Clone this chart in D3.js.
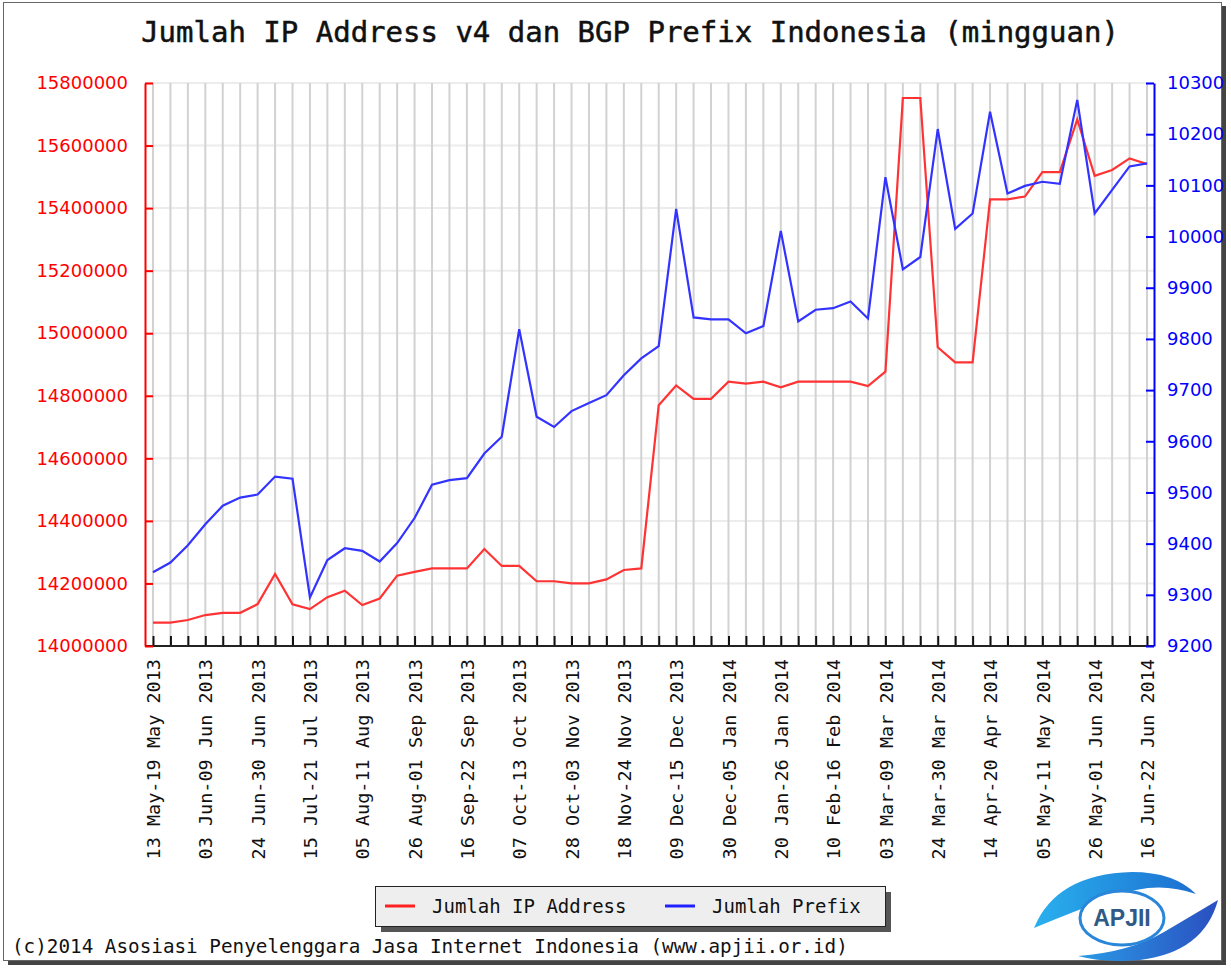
<!DOCTYPE html>
<html>
<head>
<meta charset="utf-8">
<script src="https://cdn.jsdelivr.net/npm/d3@7"></script>
<style>
  body { margin: 0; background: #fff; }
  svg { display: block; }
  .mono { font-family: "DejaVu Sans Mono", monospace; }
</style>
</head>
<body>
<div class="canvas"></div>
<script>
const weeks = [
  "13 May-19 May 2013", "20 May-26 May 2013", "27 May-02 Jun 2013", "03 Jun-09 Jun 2013",
  "10 Jun-16 Jun 2013", "17 Jun-23 Jun 2013", "24 Jun-30 Jun 2013", "01 Jul-07 Jul 2013",
  "08 Jul-14 Jul 2013", "15 Jul-21 Jul 2013", "22 Jul-28 Jul 2013", "29 Jul-04 Aug 2013",
  "05 Aug-11 Aug 2013", "12 Aug-18 Aug 2013", "19 Aug-25 Aug 2013", "26 Aug-01 Sep 2013",
  "02 Sep-08 Sep 2013", "09 Sep-15 Sep 2013", "16 Sep-22 Sep 2013", "23 Sep-29 Sep 2013",
  "30 Sep-06 Oct 2013", "07 Oct-13 Oct 2013", "14 Oct-20 Oct 2013", "21 Oct-27 Oct 2013",
  "28 Oct-03 Nov 2013", "04 Nov-10 Nov 2013", "11 Nov-17 Nov 2013", "18 Nov-24 Nov 2013",
  "25 Nov-01 Dec 2013", "02 Dec-08 Dec 2013", "09 Dec-15 Dec 2013", "16 Dec-22 Dec 2013",
  "23 Dec-29 Dec 2013", "30 Dec-05 Jan 2014", "06 Jan-12 Jan 2014", "13 Jan-19 Jan 2014",
  "20 Jan-26 Jan 2014", "27 Jan-02 Feb 2014", "03 Feb-09 Feb 2014", "10 Feb-16 Feb 2014",
  "17 Feb-23 Feb 2014", "24 Feb-02 Mar 2014", "03 Mar-09 Mar 2014", "10 Mar-16 Mar 2014",
  "17 Mar-23 Mar 2014", "24 Mar-30 Mar 2014", "31 Mar-06 Apr 2014", "07 Apr-13 Apr 2014",
  "14 Apr-20 Apr 2014", "21 Apr-27 Apr 2014", "28 Apr-04 May 2014", "05 May-11 May 2014",
  "12 May-18 May 2014", "19 May-25 May 2014", "26 May-01 Jun 2014", "02 Jun-08 Jun 2014",
  "09 Jun-15 Jun 2014", "16 Jun-22 Jun 2014"
];

// weeks that get a label on the x axis
const labelWeeks = [
  "13 May-19 May 2013", "03 Jun-09 Jun 2013", "24 Jun-30 Jun 2013", "15 Jul-21 Jul 2013",
  "05 Aug-11 Aug 2013", "26 Aug-01 Sep 2013", "16 Sep-22 Sep 2013", "07 Oct-13 Oct 2013",
  "28 Oct-03 Nov 2013", "18 Nov-24 Nov 2013", "09 Dec-15 Dec 2013", "30 Dec-05 Jan 2014",
  "20 Jan-26 Jan 2014", "10 Feb-16 Feb 2014", "03 Mar-09 Mar 2014", "24 Mar-30 Mar 2014",
  "14 Apr-20 Apr 2014", "05 May-11 May 2014", "26 May-01 Jun 2014", "16 Jun-22 Jun 2014"
];

const ipAddress = [
  14075000, 14075000, 14083000, 14099000, 14106000, 14106000, 14134000, 14230000,
  14133000, 14118000, 14156000, 14177000, 14131000, 14152000, 14225000, 14237000,
  14248000, 14248000, 14248000, 14310000, 14256000, 14256000, 14207000, 14207000,
  14200000, 14200000, 14213000, 14243000, 14248000, 14770000, 14833000, 14790000,
  14790000, 14845000, 14839000, 14845000, 14827000, 14845000, 14845000, 14845000,
  14845000, 14831000, 14877000, 15752000, 15752000, 14955000, 14907000, 14907000,
  15428000, 15428000, 15437000, 15515000, 15515000, 15684000, 15503000, 15522000,
  15559000, 15541000
];

const prefixes = [
  9344, 9363, 9397, 9438, 9474, 9490, 9496, 9531,
  9527, 9295, 9368, 9391, 9386, 9365, 9401, 9450,
  9515, 9524, 9528, 9576, 9609, 9819, 9648, 9628,
  9659, 9675, 9690, 9729, 9762, 9786, 10054, 9842,
  9838, 9838, 9811, 9825, 10011, 9834, 9857, 9860,
  9873, 9840, 10116, 9936, 9960, 10210, 10015, 10045,
  10244, 10084, 10099, 10107, 10103, 10267, 10045, 10091,
  10137, 10143
];

const leftTicks = [14000000, 14200000, 14400000, 14600000, 14800000, 15000000, 15200000, 15400000, 15600000, 15800000];
const rightTicks = [9200, 9300, 9400, 9500, 9600, 9700, 9800, 9900, 10000, 10100, 10200, 10300];

const title = "Jumlah IP Address v4 dan BGP Prefix Indonesia (mingguan)";
const copyright = "(c)2014 Asosiasi Penyelenggara Jasa Internet Indonesia (www.apjii.or.id)";
const legendItems = [
  { name: "Jumlah IP Address", color: "#ff2020" },
  { name: "Jumlah Prefix", color: "#2020ff" }
];

const W = 1231, H = 968;
const plot = { left: 145, right: 1154, top: 83, bottom: 646 };

const svg = d3.select(".canvas").append("svg").attr("width", W).attr("height", H);

// outer frame with shadow
svg.append("rect").attr("x", 8).attr("y", 6).attr("width", 1218).attr("height", 959).attr("fill", "#444");
svg.append("rect").attr("x", 3.5).attr("y", 2.5).attr("width", 1218).attr("height", 958)
  .attr("fill", "#fff").attr("stroke", "#666").attr("stroke-width", 1);

svg.append("text").attr("class", "mono")
  .attr("x", 630).attr("y", 42)
  .attr("text-anchor", "middle")
  .attr("font-size", 29)
  .attr("fill", "#111")
  .attr("stroke", "#111").attr("stroke-width", 0.5)
  .text(title);

const x = d3.scalePoint().domain(weeks).range([153, 1147]);
const yL = d3.scaleLinear().domain([14000000, 15800000]).range([plot.bottom, plot.top]);
const yR = d3.scaleLinear().domain([9200, 10300]).range([plot.bottom, plot.top]);

// grid
svg.append("g").selectAll("line").data(leftTicks).join("line")
  .attr("x1", plot.left).attr("x2", plot.right)
  .attr("y1", (d) => yL(d)).attr("y2", (d) => yL(d))
  .attr("stroke", "#ececec").attr("stroke-width", 2);
svg.append("g").selectAll("line").data(weeks).join("line")
  .attr("x1", (d) => x(d)).attr("x2", (d) => x(d))
  .attr("y1", plot.top).attr("y2", plot.bottom)
  .attr("stroke", "#d2d2d2").attr("stroke-width", 2);

// bottom axis: a tick for every week, labels every third week
const xAxis = svg.append("g")
  .attr("transform", `translate(0, ${plot.bottom})`)
  .call(d3.axisBottom(x).tickSizeInner(-10).tickSizeOuter(0).tickFormat(""));
xAxis.select(".domain").remove();
xAxis.selectAll(".tick line").attr("stroke", "#111").attr("stroke-width", 2);
svg.append("line")
  .attr("x1", plot.left).attr("x2", plot.right)
  .attr("y1", plot.bottom).attr("y2", plot.bottom)
  .attr("stroke", "#222").attr("stroke-width", 2);

const xLabels = svg.append("g")
  .attr("transform", `translate(0, ${plot.bottom})`)
  .call(d3.axisBottom(x).tickValues(labelWeeks).tickSize(0));
xLabels.select(".domain").remove();
xLabels.selectAll("text")
  .attr("class", "mono")
  .attr("font-size", 18.5)
  .attr("fill", "#111")
  .attr("transform", "rotate(-90)")
  .attr("text-anchor", "end")
  .attr("x", -13).attr("y", 0).attr("dy", "0.36em");

// left axis
const leftAxis = svg.append("g")
  .attr("transform", `translate(${plot.left}, 0)`)
  .call(d3.axisLeft(yL).tickValues(leftTicks).tickFormat(d3.format("d"))
    .tickSizeInner(-8).tickSizeOuter(0).tickPadding(17));
leftAxis.select(".domain").attr("stroke", "#ff0000").attr("stroke-width", 2);
leftAxis.selectAll(".tick line").attr("stroke", "#ff0000").attr("stroke-width", 2);
leftAxis.selectAll("text")
  .attr("fill", "#ff0000")
  .style("font-family", "'DejaVu Sans', sans-serif")
  .style("font-size", "18px");

// right axis
const rightAxis = svg.append("g")
  .attr("transform", `translate(${plot.right}, 0)`)
  .call(d3.axisRight(yR).tickValues(rightTicks).tickFormat(d3.format("d"))
    .tickSizeInner(-8).tickSizeOuter(0).tickPadding(13));
rightAxis.select(".domain").attr("stroke", "#0000ff").attr("stroke-width", 2);
rightAxis.selectAll(".tick line").attr("stroke", "#0000ff").attr("stroke-width", 2);
rightAxis.selectAll("text")
  .attr("fill", "#0000ff")
  .style("font-family", "'DejaVu Sans', sans-serif")
  .style("font-size", "18px");

// series
const ipLine = d3.line().x((d, i) => x(weeks[i])).y((d) => yL(d));
const pfLine = d3.line().x((d, i) => x(weeks[i])).y((d) => yR(d));

svg.append("path").datum(ipAddress)
  .attr("d", ipLine)
  .attr("fill", "none")
  .attr("stroke", "#ff3333")
  .attr("stroke-width", 2.2);
svg.append("path").datum(prefixes)
  .attr("d", pfLine)
  .attr("fill", "none")
  .attr("stroke", "#3333ff")
  .attr("stroke-width", 2.2);

// legend
const legend = svg.append("g").attr("transform", "translate(375, 886)");
legend.append("rect").attr("x", 6).attr("y", 6).attr("width", 510).attr("height", 40).attr("fill", "#555");
legend.append("rect").attr("x", 0.5).attr("y", 0.5).attr("width", 510).attr("height", 40)
  .attr("fill", "#eeeeee").attr("stroke", "#222");
const legendX = [10, 290];
legendItems.forEach((item, i) => {
  legend.append("line")
    .attr("x1", legendX[i]).attr("x2", legendX[i] + 30)
    .attr("y1", 20).attr("y2", 20)
    .attr("stroke", item.color).attr("stroke-width", 3);
  legend.append("text").attr("class", "mono")
    .attr("x", legendX[i] + 47).attr("y", 27)
    .attr("font-size", 19)
    .attr("fill", "#111")
    .text(item.name);
});

svg.append("text").attr("class", "mono")
  .attr("x", 12).attr("y", 953)
  .attr("font-size", 19.3)
  .attr("fill", "#111")
  .text(copyright);

// APJII logo
const defs = svg.append("defs");
const g1 = defs.append("linearGradient").attr("id", "sw1").attr("x1", "0").attr("x2", "1").attr("y1", "0").attr("y2", "0");
g1.append("stop").attr("offset", "0").attr("stop-color", "#2ab0ee");
g1.append("stop").attr("offset", "1").attr("stop-color", "#1c6fd0");
const g2 = defs.append("linearGradient").attr("id", "sw2").attr("x1", "0").attr("x2", "1").attr("y1", "0").attr("y2", "0");
g2.append("stop").attr("offset", "0").attr("stop-color", "#2a9be6");
g2.append("stop").attr("offset", "1").attr("stop-color", "#2a4fc0");

const logo = svg.append("g");
logo.append("path")
  .attr("d", "M1034,928 Q1056,874 1132,872 Q1174,872 1196,894 Q1156,880 1116,896 Q1072,912 1034,928 Z")
  .attr("fill", "url(#sw1)");
logo.append("path")
  .attr("d", "M1218,900 Q1204,952 1140,960 Q1104,963 1078,956 Q1130,952 1164,932 Q1198,912 1218,900 Z")
  .attr("fill", "url(#sw2)");
logo.append("ellipse").attr("cx", 1122).attr("cy", 918).attr("rx", 42).attr("ry", 27)
  .attr("fill", "#fff").attr("stroke", "#2a86d8").attr("stroke-width", 3);
logo.append("text")
  .attr("x", 1122).attr("y", 926)
  .attr("text-anchor", "middle")
  .attr("font-family", "'Liberation Sans', Arial, sans-serif")
  .attr("font-weight", "bold")
  .attr("font-size", 23)
  .attr("fill", "#2f5a86")
  .text("APJII");
</script>
</body>
</html>
